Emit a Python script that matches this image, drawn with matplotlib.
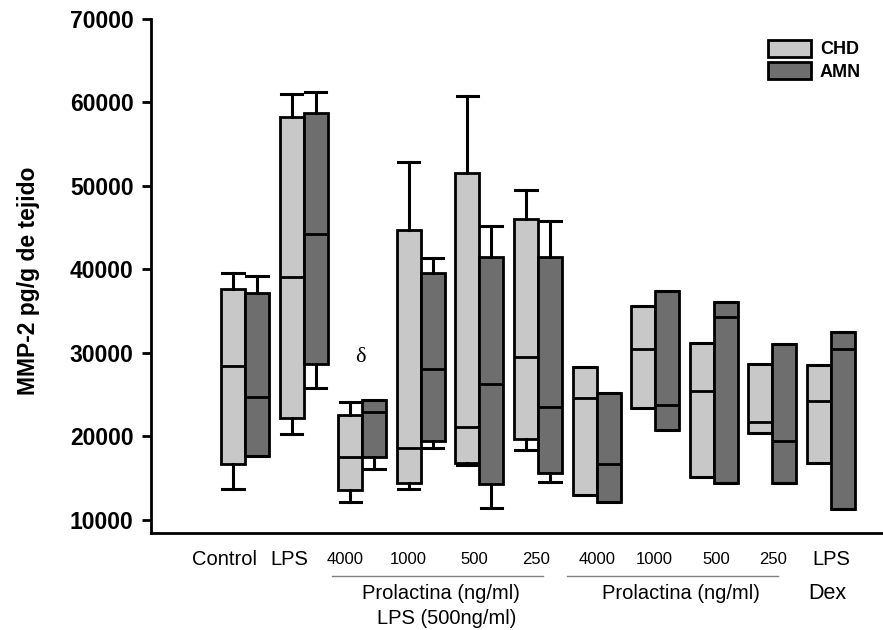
"""
plot.py
Box plot of MMP-2 (pg/g de tejido) for CHD and AMN tissue under the
different LPS / Prolactina treatments. Values were read off the figure.
"""

import matplotlib
matplotlib.use("Agg")
import matplotlib.pyplot as plt
from matplotlib.patches import Patch
from matplotlib.transforms import blended_transform_factory

# Data
# ----------------------------------------------------------------------
GROUPS = ["Control", "LPS", "4000", "1000", "500", "250",
          "4000", "1000", "500", "250", "LPS"]
SERIES = ["CHD", "AMN"]

# None = no whisker drawn on that side
CHD_WHISLO = [13710, 20300, 12190, 13680, 16600, 18380, None, None, None, None, None]
CHD_Q1     = [16710, 22250, 13590, 14470, 16790, 19660, 12990, 23380, 15190, 20380, 16860]
CHD_MED    = [28480, 39140, 17580, 18590, 21100, 29490, 24570, 30440, 25490, 21770, 24290]
CHD_Q3     = [37630, 58300, 22580, 44730, 51590, 46050, 28290, 35660, 31230, 28680, 28560]
CHD_WHISHI = [39620, 61020, 24170, 52840, 60810, 49520, None, None, None, None, None]

AMN_WHISLO = [None, 25770, 16070, 18660, 11400, 14510, None, None, None, None, None]
AMN_Q1     = [17700, 28680, 17580, 19460, 14280, 15590, 12190, 20780, 14470, 14470, 11280]
AMN_MED    = [24770, 44220, 22900, 28080, 26250, 23570, 16710, 23770, 34280, 19460, 30440]
AMN_Q3     = [37220, 58710, 24370, 39540, 41460, 41530, 25170, 37460, 36140, 31080, 32550]
AMN_WHISHI = [39220, 61220, None, 41410, 45250, 45840, None, None, None, None, None]

YTICKS = [10000, 20000, 30000, 40000, 50000, 60000, 70000]
# ----------------------------------------------------------------------

# Style
# ----------------------------------------------------------------------
FONT = "Liberation Sans"
CHD_COLOR = "#c8c8c8"
AMN_COLOR = "#6e6e6e"
LW_BOX = 2.0
LW_WHISK = 2.2
OFFSET = 0.205
WIDTH = 0.41
YLABEL = "MMP-2 pg/g de tejido"
# ----------------------------------------------------------------------


def make_stats(whislo, q1, med, q3, whishi):
    stats = []
    for lo, a, m, b, hi in zip(whislo, q1, med, q3, whishi):
        stats.append({"whislo": a if lo is None else lo, "q1": a, "med": m,
                      "q3": b, "whishi": b if hi is None else hi,
                      "fliers": []})
    return stats


def main():
    plt.rcParams["font.family"] = [FONT, "DejaVu Sans"]
    fig = plt.figure(figsize=(8.83, 6.3), dpi=100)
    ax = fig.add_axes([151 / 883, 1 - 533 / 630, 732 / 883, 514 / 630])

    x = list(range(len(GROUPS)))
    for stats, color, sign in [
            (make_stats(CHD_WHISLO, CHD_Q1, CHD_MED, CHD_Q3, CHD_WHISHI), CHD_COLOR, -1),
            (make_stats(AMN_WHISLO, AMN_Q1, AMN_MED, AMN_Q3, AMN_WHISHI), AMN_COLOR, 1)]:
        ax.bxp(stats, positions=[i + sign * OFFSET for i in x], widths=WIDTH,
               patch_artist=True, showfliers=False, capwidths=0.36,
               boxprops=dict(facecolor=color, edgecolor="black", linewidth=LW_BOX),
               medianprops=dict(color="black", linewidth=LW_BOX),
               whiskerprops=dict(color="black", linewidth=LW_WHISK),
               capprops=dict(color="black", linewidth=LW_WHISK),
               manage_ticks=False)

    ax.set_xlim(-1.604, 10.887)
    ax.set_ylim(8440, 70000)
    ax.set_yticks(YTICKS)
    ax.set_yticklabels([str(t) for t in YTICKS], fontsize=16.5, fontweight="bold")
    ax.set_xticks([])
    ax.tick_params(axis="y", direction="out", length=6.5, width=2.0, pad=6)
    for side in ["top", "right"]:
        ax.spines[side].set_visible(False)
    for side in ["left", "bottom"]:
        ax.spines[side].set_linewidth(2.0)

    fig.text(29 / 883, 1 - 281 / 630, YLABEL, rotation=90, ha="center",
             va="center", fontsize=16.5, fontweight="bold")

    # significance mark
    ax.text(2 - 0.03, 29400, "\u03b4", fontsize=16, family="Liberation Serif",
            ha="center", va="center")

    # category labels under the axis
    trans = blended_transform_factory(ax.transData, ax.transAxes)
    big = [(-0.35, "Control"), (0.76, "LPS"), (10.0, "LPS")]
    small = [(1.71, "4000"), (2.78, "1000"), (3.91, "500"), (4.96, "250"),
             (6.01, "4000"), (6.98, "1000"), (8.04, "500"), (9.01, "250")]
    for xp, s in big:
        ax.text(xp, -0.0525, s, transform=trans, ha="center", va="center",
                fontsize=14.5)
    for xp, s in small:
        ax.text(xp, -0.0525, s, transform=trans, ha="center", va="center",
                fontsize=12)
    ax.text(3.34, -0.117, "Prolactina (ng/ml)", transform=trans, ha="center",
            va="center", fontsize=14.5)
    ax.text(3.45, -0.166, "LPS (500ng/ml)", transform=trans, ha="center",
            va="center", fontsize=14.5)
    ax.text(7.44, -0.117, "Prolactina (ng/ml)", transform=trans, ha="center",
            va="center", fontsize=14.5)
    ax.text(9.93, -0.117, "Dex", transform=trans, ha="center", va="center",
            fontsize=15.5)
    for x0, x1 in [(1.48, 5.09), (5.49, 9.09)]:
        ax.plot([x0, x1], [-0.084, -0.084], transform=trans, color="#808080",
                linewidth=1.0, clip_on=False)

    handles = [Patch(facecolor=CHD_COLOR, edgecolor="black", linewidth=LW_BOX),
               Patch(facecolor=AMN_COLOR, edgecolor="black", linewidth=LW_BOX)]
    ax.legend(handles, SERIES, loc="upper left", bbox_to_anchor=(0.830, 0.977),
              frameon=False, borderpad=0, handlelength=2.4, handleheight=1.05,
              labelspacing=0.2, handletextpad=0.5,
              prop={"family": FONT, "weight": "bold", "size": 13})

    fig.savefig("out.png", dpi=100)


if __name__ == "__main__":
    main()
